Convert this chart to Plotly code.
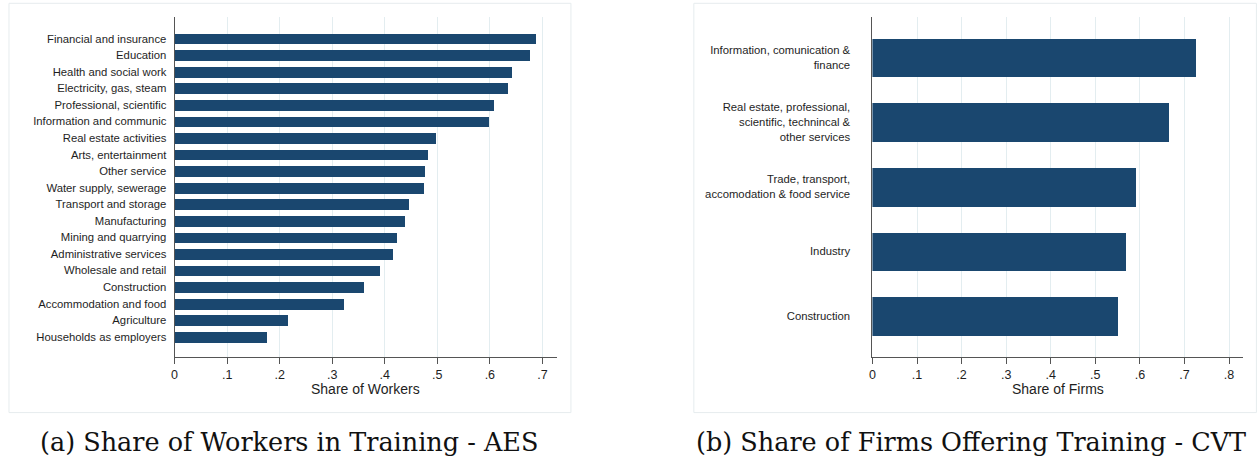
import plotly.graph_objects as go

# Panel (a): share of workers in training by sector (AES)
workers_sectors = [
    "Financial and insurance", "Education", "Health and social work",
    "Electricity, gas, steam", "Professional, scientific", "Information and communic",
    "Real estate activities", "Arts, entertainment", "Other service",
    "Water supply, sewerage", "Transport and storage", "Manufacturing",
    "Mining and quarrying", "Administrative services", "Wholesale and retail",
    "Construction", "Accommodation and food", "Agriculture", "Households as employers",
]
workers_share = [
    0.687, 0.675, 0.641, 0.634, 0.608, 0.597, 0.496, 0.481, 0.476, 0.473,
    0.446, 0.437, 0.422, 0.414, 0.391, 0.359, 0.321, 0.215, 0.175,
]

# Panel (b): share of firms offering training by sector (CVT)
firm_sectors = [
    "Information, comunication &<br>finance",
    "Real estate, professional,<br>scientific, technincal &<br>other services",
    "Trade, transport,<br>accomodation & food service",
    "Industry",
    "Construction",
]
firm_share = [0.727, 0.666, 0.592, 0.569, 0.552]

workers_ticks = [0, 0.1, 0.2, 0.3, 0.4, 0.5, 0.6, 0.7]
workers_ticktext = ["0", ".1", ".2", ".3", ".4", ".5", ".6", ".7"]
firm_ticks = [0, 0.1, 0.2, 0.3, 0.4, 0.5, 0.6, 0.7, 0.8]
firm_ticktext = ["0", ".1", ".2", ".3", ".4", ".5", ".6", ".7", ".8"]

captions = [
    "(a) Share of Workers in Training - AES",
    "(b) Share of Firms Offering Training - CVT",
]
axis_titles = ["Share of Workers", "Share of Firms"]

W, H = 1257, 461
NAVY = "#1a476f"
GRID = "#e3edf0"
FRAME = "#e6ecee"
AXIS = "#555555"
TEXT = "#1e1e1e"
LABEL_FONT = dict(family="Liberation Sans, Arial, sans-serif", size=11.3, color=TEXT)
TICK_FONT = dict(family="Liberation Sans, Arial, sans-serif", size=12.5, color=TEXT)


def px_x(v):
    return v / W


def px_y(v):
    return 1 - v / H


fig = go.Figure()

# sectors listed top-to-bottom, plotted bottom-up
n1 = len(workers_sectors)
fig.add_trace(go.Bar(
    x=workers_share[::-1], y=list(range(n1)), orientation="h",
    marker=dict(color=NAVY, line=dict(width=0)), width=0.65,
    xaxis="x", yaxis="y", showlegend=False,
))
n2 = len(firm_sectors)
fig.add_trace(go.Bar(
    x=firm_share[::-1], y=list(range(n2)), orientation="h",
    marker=dict(color=NAVY, line=dict(width=0)), width=0.6,
    xaxis="x2", yaxis="y2", showlegend=False,
))

y_dom = [px_y(357.2), px_y(16.5)]
common_x = dict(
    showline=True, linecolor=AXIS, linewidth=1,
    ticks="outside", ticklen=6, tickcolor=AXIS, tickwidth=1,
    showgrid=True, gridcolor=GRID, gridwidth=1, zeroline=False,
    tickfont=TICK_FONT, fixedrange=True,
)
common_y = dict(
    showline=True, linecolor=AXIS, linewidth=1, ticks="",
    showgrid=False, zeroline=False, tickfont=LABEL_FONT, fixedrange=True,
)

fig.update_layout(
    width=W, height=H, autosize=False,
    margin=dict(l=0, r=0, t=0, b=0),
    paper_bgcolor="white", plot_bgcolor="white",
    bargap=0,
    xaxis=dict(common_x, domain=[px_x(172), px_x(555.3)], range=[0, 0.7277],
               tickvals=workers_ticks, ticktext=workers_ticktext, anchor="y"),
    yaxis=dict(common_y, domain=y_dom, range=[-1.23, n1 - 1 + 1.33],
               tickvals=list(range(n1)), ticktext=workers_sectors[::-1],
               ticklabelstandoff=5, anchor="x"),
    xaxis2=dict(common_x, domain=[px_x(871.5), px_x(1243.3)], range=[0, 0.832],
                tickvals=firm_ticks, ticktext=firm_ticktext, anchor="y2"),
    yaxis2=dict(common_y, domain=y_dom, range=[-0.634, n2 - 1 + 0.633],
                tickvals=list(range(n2)), ticktext=firm_sectors[::-1],
                ticklabelstandoff=19, anchor="x2"),
)

# light frames around each panel
for x0, x1 in [(6, 569.3), (692.5, 1256.4)]:
    fig.add_shape(type="rect", xref="paper", yref="paper",
                  x0=px_x(x0), x1=px_x(x1), y0=px_y(412.6), y1=px_y(3.3),
                  line=dict(color=FRAME, width=1), fillcolor="rgba(0,0,0,0)",
                  layer="below")

# axis titles
for title, xc in zip(axis_titles, [363.6, 1057.4]):
    fig.add_annotation(text=title, xref="paper", yref="paper",
                       x=px_x(xc), y=px_y(389.2), xanchor="center", yanchor="middle",
                       showarrow=False,
                       font=dict(family="Liberation Sans, Arial, sans-serif", size=14, color=TEXT))

# sub-figure captions
for cap, xc in zip(captions, [286.5, 970.5]):
    fig.add_annotation(text=cap, xref="paper", yref="paper",
                       x=px_x(xc), y=px_y(442), xanchor="center", yanchor="middle",
                       showarrow=False,
                       font=dict(family="DejaVu Serif, serif", size=25.5, color="#111111"))

fig.write_html("out.html")
